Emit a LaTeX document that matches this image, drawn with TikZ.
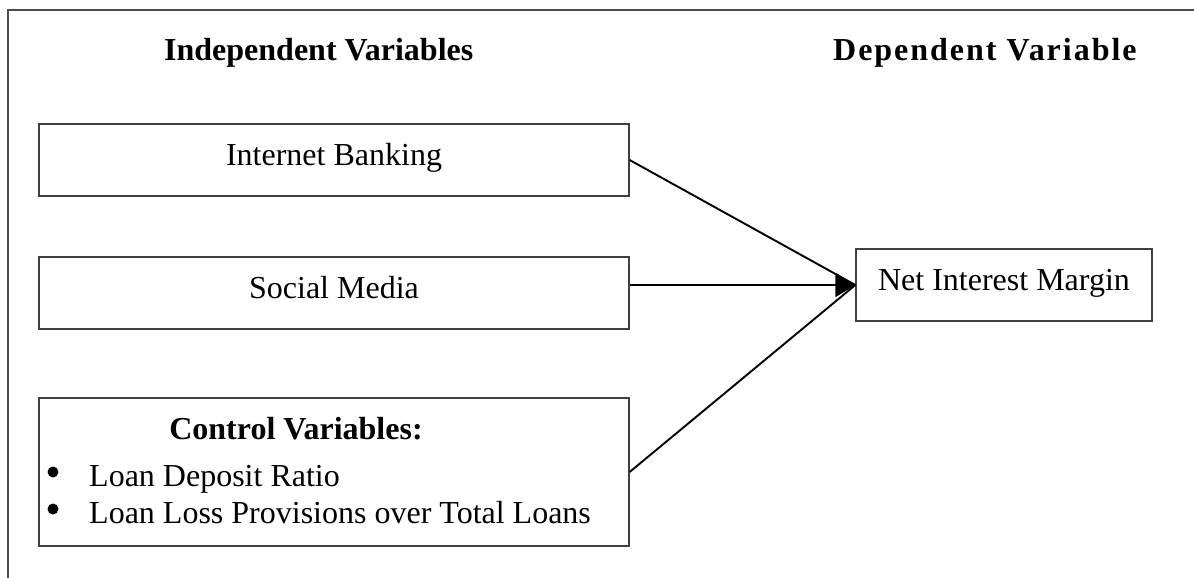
\documentclass[tikz,border=0pt]{standalone}
\usepackage{fontspec}
\setmainfont{Liberation Serif}
\newfontfamily\spacedserif[LetterSpace=6.2]{Liberation Serif}
\usetikzlibrary{arrows.meta}
\begin{document}
\begin{tikzpicture}[x=1pt,y=-1pt,
  every node/.style={font=\fontsize{32}{37}\selectfont},
  box/.style={draw=black!75, line width=1.3pt, rectangle, inner sep=0pt},
  onebox/.style={box, text height=22pt, text depth=12pt},
  conn/.style={draw=black, line width=1.9pt},
  frame/.style={draw=black!70, line width=1.5pt},
  bulletdot/.style={inner sep=0pt, fill=black, circle, minimum size=11pt},
  plain/.style={inner sep=0pt}]
\useasboundingbox (0,0) rectangle (1194,578);
% outer frame (cropped)
\coordinate (ftl) at (8,10);
\coordinate (ftr) at (1194,10);
\coordinate (fbl) at (8,578);
\draw[frame] (fbl) -- (ftl) -- (ftr);
% headings
\node[plain, anchor=base west, font=\fontsize{32}{37}\selectfont\bfseries] (hind) at (164,60) {Independent Variables};
\node[plain, anchor=base west, font=\fontsize{32}{37}\selectfont\spacedserif\bfseries] (hdep) at (833,60) {Dependent Variable};
% boxes
\node[onebox, minimum width=590pt, minimum height=72pt] (ib) at (334,160) {Internet Banking};
\node[onebox, minimum width=590pt, minimum height=72pt] (sm) at (334,293) {Social Media};
\node[box, minimum width=590pt, minimum height=148pt] (ctrl) at (334,472) {};
\node[onebox, minimum width=296pt, minimum height=72pt] (nim) at (1004,285) {Net Interest Margin};
% control box contents
\node[plain, anchor=base, font=\fontsize{32}{37}\selectfont\bfseries] (ctitle) at (296,439) {Control Variables:};
\node[bulletdot] (b1) at (53,472) {};
\node[plain, anchor=base west] (c1) at (89,486) {Loan Deposit Ratio};
\node[bulletdot] (b2) at (53,509) {};
\node[plain, anchor=base west] (c2) at (89,523) {Loan Loss Provisions over Total Loans};
% connectors
\draw[conn] (ib.east) -- (nim.west);
\draw[conn] (ctrl.east) -- (nim.west);
\draw[conn, -{Triangle[length=20pt,width=24pt]}] (sm.east |- nim.west) -- (nim.west);
\end{tikzpicture}
\end{document}
